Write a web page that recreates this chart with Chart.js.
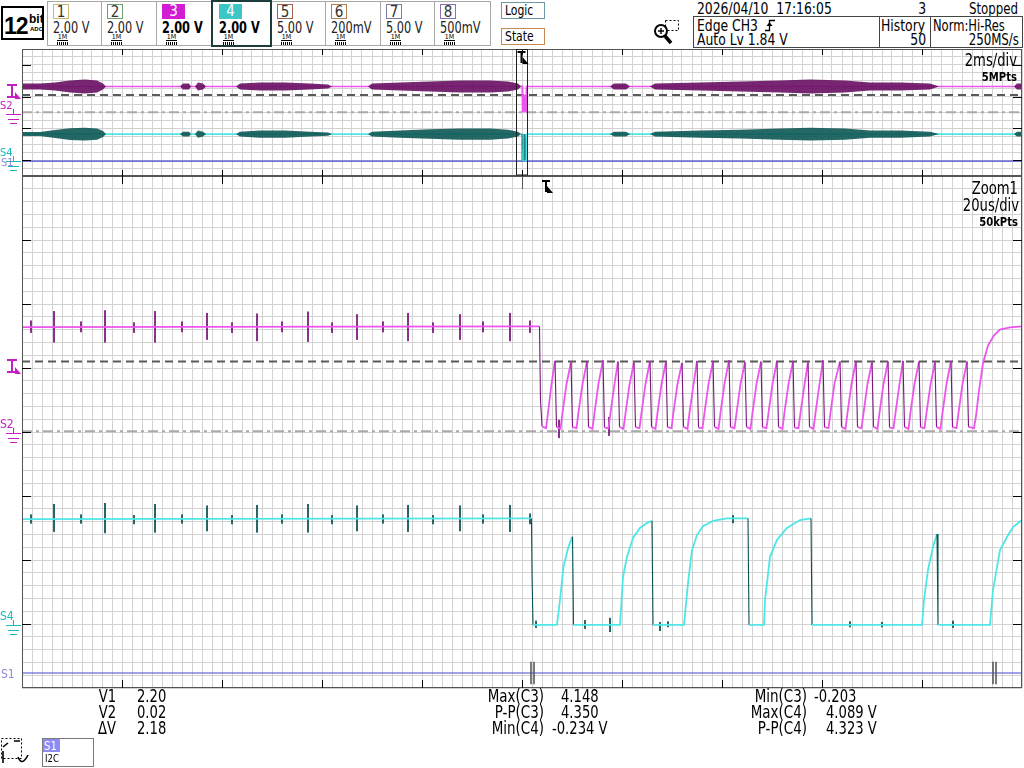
<!DOCTYPE html>
<html>
<head>
<meta charset="utf-8">
<title>Scope capture</title>
<script src="https://cdn.jsdelivr.net/npm/chart.js@4.4.1/dist/chart.umd.min.js"></script>
<style>
  html, body { margin: 0; padding: 0; background: #fff; }
  body {
    position: relative; width: 1024px; height: 768px; overflow: hidden; color: #000;
    font-family: "DejaVu Sans Condensed", "DejaVu Sans", sans-serif;
  }
  .abs { position: absolute; white-space: pre; line-height: 1; }
  .t { transform: scaleX(0.86); transform-origin: left top; }
  .r { text-align: right; transform-origin: right top; }
  canvas { position: absolute; left: 0; }
  #overview { top: 49px; }
  #zoom { top: 176px; }
  .chbox { position: absolute; top: 1px; height: 45px; border: 1px solid #a8a8a8; box-sizing: border-box; background: #fff; }
  .chbox.sel { top: 0; height: 47px; border: 2px solid #1e3c3c; z-index: 2; }
  .chnum { position: absolute; top: 2px; height: 15px; font-size: 15px; line-height: 15px; text-align: center; box-sizing: border-box; }
  .chv { position: absolute; top: 18px; font-size: 15px; line-height: 16px; white-space: pre; color: #222;
         transform: scaleX(0.84); transform-origin: left top; }
  .ohm { position: absolute; top: 32px; width: 11px; font-size: 7px; line-height: 6px; text-align: center;
         border-bottom: 1px solid #000; }
  .hatch { position: absolute; top: 40px; width: 11px; height: 3px;
           background: repeating-linear-gradient(90deg, #000 0 1px, #fff 1px 2px); }
  .big { font-size: 16px; }
  .meas { font-size: 17px; }
</style>
</head>
<body>

<div class="abs" style="left:1px;top:6px;width:39px;height:30px;border:2px solid #000;">
  <div class="abs" style="left:1px;top:5px;font:bold 23px 'Liberation Sans',Arial,sans-serif;letter-spacing:-1px;">12</div>
  <div class="abs" style="left:26px;top:4px;font:bold 12px 'Liberation Sans',Arial,sans-serif;">bit</div>
  <div class="abs" style="left:27px;top:18px;font:bold 6px 'Liberation Sans',Arial,sans-serif;">ADC</div>
</div>
<div id="channels"></div>

<div class="abs" style="left:501px;top:2px;width:42px;height:15px;border:1px solid #6f98a6;"></div>
<div class="abs t" style="left:505px;top:3px;font-size:14px;">Logic</div>
<div class="abs" style="left:501px;top:28px;width:42px;height:15px;border:1px solid #c48a52;"></div>
<div class="abs t" style="left:505px;top:29px;font-size:14px;">State</div>

<svg class="abs" style="left:652px;top:18px;" width="30" height="28">
  <rect x="13.5" y="2.5" width="13" height="10" fill="none" stroke="#000" stroke-dasharray="2,2"/>
  <circle cx="9" cy="13" r="6" fill="#fff" stroke="#000" stroke-width="2"/>
  <path d="M6 13 H12 M9 10 V16" stroke="#000" stroke-width="1.4"/>
  <path d="M13 18 L19 25" stroke="#000" stroke-width="3.5"/>
</svg>

<div class="abs big t" style="left:697px;top:1px;">2026/04/10  17:16:05</div>
<div class="abs big r" style="left:880px;top:1px;width:46px;transform:scaleX(.86);">3</div>
<div class="abs big r" style="left:900px;top:1px;width:118px;transform:scaleX(.82);">Stopped</div>
<div class="abs" style="left:693px;top:16px;width:328px;height:30px;border:1px solid #444;"></div>
<div class="abs" style="left:879px;top:16px;width:1px;height:31px;background:#444;"></div>
<div class="abs" style="left:930px;top:16px;width:1px;height:31px;background:#444;"></div>
<div class="abs big t" style="left:697px;top:18px;">Edge CH3</div>
<svg class="abs" style="left:765px;top:19px;" width="12" height="13">
  <path d="M0 11.5 H4.5 V1.5 H10" fill="none" stroke="#000" stroke-width="1.3"/>
  <path d="M1.5 7 L4.5 3 L7.5 7 Z" fill="#000"/>
</svg>
<div class="abs big t" style="left:697px;top:32px;">Auto Lv 1.84 V</div>
<div class="abs big t" style="left:881px;top:18px;">History</div>
<div class="abs big r" style="left:880px;top:32px;width:46px;transform:scaleX(.86);">50</div>
<div class="abs big t" style="left:933px;top:18px;transform:scaleX(.8);">Norm:Hi-Res</div>
<div class="abs big r" style="left:900px;top:32px;width:119px;transform:scaleX(.82);">250MS/s</div>

<canvas id="overview" width="1024" height="128"></canvas>
<canvas id="zoom" width="1024" height="513"></canvas>

<div class="abs r" style="left:900px;top:52px;width:117px;font-size:17px;transform:scaleX(.86);">2ms/div</div>
<div class="abs r" style="left:900px;top:70px;width:117px;font-size:13px;font-weight:bold;transform:scaleX(.86);">5MPts</div>
<div class="abs r" style="left:900px;top:180px;width:118px;font-size:17px;transform:scaleX(.86);">Zoom1</div>
<div class="abs r" style="left:900px;top:197px;width:119px;font-size:17px;transform:scaleX(.86);">20us/div</div>
<div class="abs r" style="left:900px;top:215px;width:118px;font-size:13px;font-weight:bold;transform:scaleX(.86);">50kPts</div>

<div class="abs meas r" style="left:60px;top:688px;width:56px;transform:scaleX(.86);">V1</div>
<div class="abs meas r" style="left:60px;top:704px;width:56px;transform:scaleX(.86);">V2</div>
<div class="abs meas r" style="left:60px;top:720px;width:56px;transform:scaleX(.86);">ΔV</div>
<div class="abs meas t" style="left:137px;top:688px;">2.20</div>
<div class="abs meas t" style="left:137px;top:704px;">0.02</div>
<div class="abs meas t" style="left:137px;top:720px;">2.18</div>

<div class="abs meas r" style="left:440px;top:688px;width:104px;transform:scaleX(.88);">Max(C3)</div>
<div class="abs meas r" style="left:440px;top:704px;width:104px;transform:scaleX(.88);">P-P(C3)</div>
<div class="abs meas r" style="left:440px;top:720px;width:104px;transform:scaleX(.88);">Min(C4)</div>
<div class="abs meas t" style="left:561px;top:688px;">4.148</div>
<div class="abs meas t" style="left:561px;top:704px;">4.350</div>
<div class="abs meas t" style="left:552px;top:720px;">-0.234 V</div>

<div class="abs meas r" style="left:700px;top:688px;width:107px;transform:scaleX(.88);">Min(C3)</div>
<div class="abs meas r" style="left:700px;top:704px;width:107px;transform:scaleX(.88);">Max(C4)</div>
<div class="abs meas r" style="left:700px;top:720px;width:107px;transform:scaleX(.88);">P-P(C4)</div>
<div class="abs meas t" style="left:814px;top:688px;">-0.203</div>
<div class="abs meas t" style="left:826px;top:704px;">4.089 V</div>
<div class="abs meas t" style="left:826px;top:720px;">4.323 V</div>

<svg class="abs" style="left:0;top:737px;" width="34" height="30">
  <rect x="1.5" y="1.5" width="20" height="20" fill="none" stroke="#000" stroke-dasharray="2,2"/>
  <path d="M14 4 H20 M3 10 L8 6 M3 26 V14 M18 20 Q22 30 28 18" fill="none" stroke="#000" stroke-width="1.6"/>
</svg>
<div class="abs" style="left:42px;top:738px;width:50px;height:27px;border:1px solid #7a7a7a;"></div>
<div class="abs" style="left:43px;top:739px;width:17px;height:13px;background:#8c8cf2;"></div>
<div class="abs t" style="left:44px;top:739px;font-size:13px;color:#fff;">S1</div>
<div class="abs t" style="left:45px;top:753px;font-size:11px;">I2C</div>

<script>
// header channel boxes
const chNames = ["1", "2", "3", "4", "5", "6", "7", "8"];
const chScales = ["2.00 V", "2.00 V", "2.00 V", "2.00 V", "5.00 V", "200mV", "5.00 V", "500mV"];
const chColors = ["#c6b97a", "#6e9e6e", "#d21ed2", "#3cc6c6", "#a4604e", "#b47e52", "#7c7ca4", "#8a72b8"];
const chFilled = [false, false, true, true, false, false, false, false];
const chLeft = [47, 101, 156, 211, 271, 325, 380, 434, 490];

// zoom window, 20 us/div, time in us, volts per channel
const c3T = [
  0, 103.5, 103.7, 104.0, 104.8, 105.2, 105.9,
  106.6, 106.9, 107.7, 108.1, 108.9,
  109.8, 110.1, 110.9, 111.3, 112.1,
  113.0, 113.3, 114.1, 114.5, 115.3,
  116.2, 116.5, 117.3, 117.7, 118.5,
  119.2, 119.5, 120.3, 120.7, 121.5,
  122.4, 122.7, 123.5, 123.9, 124.7,
  125.6, 125.9, 126.7, 127.1, 127.9,
  128.8, 129.1, 129.9, 130.3, 131.1,
  132.0, 132.3, 133.1, 133.5, 134.3,
  135.0, 135.3, 136.1, 136.5, 137.3,
  138.2, 138.5, 139.3, 139.7, 140.5,
  141.4, 141.7, 142.5, 142.9, 143.7,
  144.6, 144.9, 145.7, 146.1, 146.9,
  147.8, 148.1, 148.9, 149.3, 150.1,
  151.0, 151.3, 152.1, 152.5, 153.3,
  154.2, 154.5, 155.3, 155.7, 156.5,
  157.2, 157.5, 158.3, 158.7, 159.5,
  160.2, 160.5, 161.3, 161.7, 162.5,
  163.6, 163.9, 164.7, 165.1, 165.9,
  166.8, 167.1, 167.9, 168.3, 169.1,
  170.0, 170.3, 171.1, 171.5, 172.3,
  173.2, 173.5, 174.3, 174.7, 175.5,
  176.2, 176.5, 177.3, 177.7, 178.5,
  179.4, 179.7, 180.5, 180.9, 181.7,
  182.6, 182.9, 183.7, 184.1, 184.9,
  185.8, 186.1, 186.9, 187.3, 188.1,
  189.0, 189.3, 190.4, 190.8, 191.4, 192.2, 193.2, 194.4, 195.6, 197.6, 200,
];
const c3V = [
  3.28, 3.3, 1.0, 0.18, 0.12, 0.6, 1.5,
  2.22, 0.16, 0.1, 0.6, 1.5,
  2.18, 0.15, 0.12, 0.62, 1.5,
  2.2, 0.16, 0.1, 0.6, 1.52,
  2.24, 0.14, 0.12, 0.6, 1.5,
  2.2, 0.16, 0.1, 0.58, 1.48,
  2.18, 0.15, 0.12, 0.6, 1.5,
  2.22, 0.16, 0.1, 0.6, 1.5,
  2.2, 0.15, 0.12, 0.62, 1.5,
  2.16, 0.16, 0.1, 0.6, 1.48,
  2.22, 0.14, 0.12, 0.6, 1.5,
  2.2, 0.16, 0.1, 0.6, 1.52,
  2.24, 0.15, 0.12, 0.58, 1.5,
  2.18, 0.16, 0.1, 0.6, 1.5,
  2.2, 0.15, 0.12, 0.6, 1.5,
  2.22, 0.16, 0.1, 0.62, 1.5,
  2.2, 0.14, 0.12, 0.6, 1.48,
  2.18, 0.16, 0.1, 0.6, 1.5,
  2.24, 0.15, 0.12, 0.6, 1.52,
  2.2, 0.16, 0.1, 0.6, 1.5,
  2.22, 0.15, 0.12, 0.58, 1.5,
  2.18, 0.16, 0.1, 0.6, 1.5,
  2.2, 0.14, 0.12, 0.6, 1.5,
  2.22, 0.16, 0.1, 0.62, 1.5,
  2.2, 0.15, 0.12, 0.6, 1.48,
  2.18, 0.16, 0.1, 0.6, 1.5,
  2.22, 0.15, 0.12, 0.6, 1.5,
  2.2, 0.16, 0.12, 0.5, 1.3, 2.15, 2.7, 3.02, 3.2, 3.27, 3.3,
];
const c4T = [
  0, 101.9, 102.0, 102.2,
  107.0, 107.6, 108.3, 109.3, 110.1, 110.3,
  119.6, 120.2, 121.0, 122.2, 123.6, 125.0, 126.0, 126.2,
  132.4, 133.2, 134.0, 135.0, 136.2, 138.2, 141.0, 145.2, 145.4,
  148.4, 148.6, 149.0, 149.6, 151.0, 153.0, 155.6, 157.8, 158.0,
  180.0, 180.4, 181.2, 182.2, 183.0, 183.2,
  193.6, 194.2, 195.0, 195.6, 197.0, 198.2, 200,
];
const c4V = [
  3.28, 3.3, 1.6, -0.03,
  -0.03, 0.75, 1.79, 2.42, 2.73, -0.03,
  -0.03, 1.47, 2.1, 2.69, 3.0, 3.16, 3.22, -0.03,
  -0.03, 1.28, 2.31, 2.78, 3.06, 3.22, 3.3, 3.3, -0.03,
  -0.03, 0.75, 1.28, 2.1, 2.63, 3.0, 3.25, 3.3, -0.03,
  -0.03, 0.75, 1.69, 2.41, 2.81, -0.03,
  -0.03, 1.06, 1.78, 2.31, 2.72, 3.03, 3.25,
];

// glitches riding on the traces: time, top and bottom of each spike
const c3SpikeT = [1.8, 6.4, 11.8, 16.6, 22.4, 26.6, 32.0, 37.0, 42.0, 47.0, 52.0, 57.2, 62.0, 67.0, 72.2, 77.2, 82.2, 87.6, 92.2, 97.6, 101.6, 107.4, 117.4];
const c3SpikeHi = [3.48, 3.78, 3.45, 3.8, 3.42, 3.78, 3.45, 3.72, 3.42, 3.7, 3.45, 3.76, 3.42, 3.68, 3.45, 3.72, 3.42, 3.68, 3.45, 3.72, 3.48, 0.38, 0.47];
const c3SpikeLo = [3.1, 2.8, 3.12, 2.8, 3.1, 2.8, 3.12, 2.88, 3.1, 2.84, 3.12, 2.82, 3.1, 2.88, 3.12, 2.84, 3.1, 2.88, 3.12, 2.84, 3.1, -0.19, -0.12];
const c4SpikeT = [1.8, 6.4, 11.8, 16.6, 22.4, 26.6, 32.0, 37.0, 42.0, 47.0, 52.0, 57.2, 62.0, 67.0, 72.2, 77.2, 82.2, 87.6, 92.2, 97.6, 101.6, 102.8, 112.6, 117.6, 127.6, 129.2, 142.2, 165.6, 172.0, 186.2];
const c4SpikeHi = [3.42, 3.75, 3.42, 3.78, 3.4, 3.75, 3.42, 3.7, 3.4, 3.72, 3.42, 3.75, 3.4, 3.7, 3.42, 3.72, 3.4, 3.7, 3.42, 3.72, 3.45, 0.1, 0.12, 0.19, 0.06, 0.08, 3.4, 0.08, 0.06, 0.1];
const c4SpikeLo = [3.14, 2.88, 3.14, 2.84, 3.12, 2.86, 3.14, 2.9, 3.12, 2.86, 3.14, 2.86, 3.12, 2.9, 3.14, 2.88, 3.12, 2.9, 3.14, 2.88, 3.12, -0.12, -0.15, -0.25, -0.22, -0.1, 3.15, -0.1, -0.1, -0.12];

const cursorV1 = 2.20;
const cursorV2 = 0.02;
const triggerLevel = 1.84;
const s1LevelDiv = 0.234;
const s1MarkT = [101.8, 102.4, 194.2, 194.8];
const s1MarkDiv = [0.06, 0.41];

// overview, 2 ms/div, time in ms; burst envelopes as half height in volts
const ovZoomStart = 9.9;
const ovZoomEnd = 10.1;
const ovHigh3 = 3.28;
const ovHigh4 = 3.28;
const ovS1Div = 0.94;
const ovBandMs = [0, 0.36, 0.66, 0.96, 1.26, 1.5, 1.62, 1.68, 3.16, 3.22, 3.34, 3.38, 3.46, 3.52, 3.62, 3.68,
  4.28, 4.36, 4.76, 5.26, 5.76, 6.12, 6.2, 6.92, 7.0, 7.56, 8.16, 8.76, 9.36, 9.72, 9.92, 9.98,
  11.76, 11.84, 12.08, 12.16, 12.56, 12.66, 13.56, 14.36, 15.16, 15.76, 16.46, 16.96, 17.56, 18.16, 18.34,
  19.84, 19.9, 20.0];
const ovBand3 = [0.38, 0.38, 0.5, 0.75, 0.88, 0.75, 0.38, 0, 0, 0.38, 0.38, 0, 0, 0.5, 0.38, 0,
  0, 0.38, 0.5, 0.5, 0.38, 0.25, 0, 0, 0.38, 0.5, 0.63, 0.75, 0.75, 0.63, 0.38, 0,
  0, 0.38, 0.38, 0, 0, 0.38, 0.5, 0.63, 0.75, 0.88, 0.75, 0.5, 0.5, 0.38, 0,
  0, 0.38, 0.38];
const ovBand4 = [0.25, 0.25, 0.5, 0.75, 0.8, 0.7, 0.38, 0, 0, 0.3, 0.3, 0, 0, 0.45, 0.3, 0,
  0, 0.3, 0.45, 0.45, 0.3, 0.2, 0, 0, 0.3, 0.45, 0.6, 0.7, 0.7, 0.55, 0.3, 0,
  0, 0.3, 0.3, 0, 0, 0.3, 0.45, 0.55, 0.7, 0.8, 0.7, 0.45, 0.45, 0.3, 0,
  0, 0.3, 0.3];

const C3 = "#ee55ee";
const C3_DARK = "#7a147a";
const C4 = "#4ee6e6";
const C4_DARK = "#0a5252";
const S1_COLOR = "#4646d2";
const GRID = "#d2d2d2";
const FRAME = "#555555";
const FONT = '"DejaVu Sans Condensed", "DejaVu Sans", sans-serif';

function buildChannelBoxes() {
  const holder = document.getElementById("channels");
  chNames.forEach((name, i) => {
    const box = document.createElement("div");
    box.className = name === "4" ? "chbox sel" : "chbox";
    box.style.left = `${chLeft[i]}px`;
    box.style.width = `${chLeft[i + 1] - chLeft[i] + 1}px`;
    const inset = name === "4" ? 6 : 5;

    const num = document.createElement("div");
    num.className = "chnum";
    num.textContent = name;
    num.style.left = `${inset}px`;
    num.style.width = chFilled[i] ? "23px" : "16px";
    if (chFilled[i]) {
      num.style.background = chColors[i];
      num.style.color = "#fff";
    } else {
      num.style.border = `1px solid ${chColors[i]}`;
      num.style.color = "#333";
    }

    const volts = document.createElement("div");
    volts.className = "chv";
    volts.textContent = chScales[i];
    volts.style.left = `${inset}px`;
    if (chFilled[i]) {
      volts.style.fontWeight = "bold";
      volts.style.color = "#000";
    }

    const ohm = document.createElement("div");
    ohm.className = "ohm";
    ohm.textContent = "1M";
    ohm.style.left = `${inset + 4}px`;
    const hatch = document.createElement("div");
    hatch.className = "hatch";
    hatch.style.left = `${inset + 4}px`;

    box.append(num, volts, ohm, hatch);
    holder.appendChild(box);
  });
}

function xy(ts, vs) {
  return ts.map((t, i) => ({ x: t, y: vs[i] }));
}

function spikeSegments(ts, his, los) {
  const pts = [];
  ts.forEach((t, i) => {
    pts.push({ x: t, y: his[i] }, { x: t, y: los[i] }, { x: t, y: null });
  });
  return pts;
}

function overviewTrace(ts, vs, level) {
  const pts = [{ x: 0, y: level }, { x: ovZoomStart, y: level }];
  ts.forEach((t, i) => pts.push({ x: ovZoomStart + t / 1000, y: vs[i] }));
  pts.push({ x: ovZoomEnd, y: level }, { x: 20, y: level });
  return pts;
}

function envelope(level, halves, sign) {
  return ovBandMs.map((t, i) => ({ x: t, y: level + sign * halves[i] }));
}

// falling edges show up dark and thin on the scope
function isFall(ctx) {
  const drop = ctx.p0.parsed.y - ctx.p1.parsed.y;
  const dx = ctx.p1.parsed.x - ctx.p0.parsed.x;
  return drop > 0.8 && dx < 0.5;
}

function edgeColors(light, dark) {
  return {
    borderColor: (ctx) => (isFall(ctx) ? dark : light),
    borderWidth: (ctx) => (isFall(ctx) ? 1.1 : undefined),
  };
}

function line(data, axis, color, width, extra = {}) {
  return Object.assign({
    data, yAxisID: axis, borderColor: color, borderWidth: width,
    pointRadius: 0, fill: false, spanGaps: false, tension: 0,
  }, extra);
}

function gridScale(min, max, step) {
  return {
    type: "linear", min, max,
    ticks: { display: false, stepSize: step, maxTicksLimit: 1000 },
    grid: { color: GRID, lineWidth: 1, drawTicks: false },
    border: { display: false },
    afterFit: (s) => { s.width = s.isHorizontal() ? s.width : 0; s.height = s.isHorizontal() ? 0 : s.height; },
  };
}

function drawGround(ctx, y, color) {
  ctx.strokeStyle = color;
  ctx.lineWidth = 1;
  ctx.beginPath();
  ctx.moveTo(13.5, y - 4); ctx.lineTo(13.5, y + 1);
  ctx.moveTo(6, y + 1.5); ctx.lineTo(21, y + 1.5);
  ctx.moveTo(8, y + 6.5); ctx.lineTo(19, y + 6.5);
  ctx.moveTo(10, y + 10.5); ctx.lineTo(17, y + 10.5);
  ctx.stroke();
}

function drawLevelMarker(ctx, y, color) {
  ctx.fillStyle = color;
  ctx.fillRect(7, y - 14, 10, 2);
  ctx.fillRect(11, y - 14, 2, 14);
  ctx.fillRect(7, y - 2, 8, 2);
  ctx.beginPath();
  ctx.moveTo(15, y - 6); ctx.lineTo(21, y + 1); ctx.lineTo(15, y + 1);
  ctx.closePath();
  ctx.fill();
}

function drawTrigT(ctx, x, y) {
  ctx.fillStyle = "#000";
  ctx.fillRect(x, y, 8, 2);
  ctx.fillRect(x + 3, y, 2, 12);
  ctx.beginPath();
  ctx.moveTo(x + 5, y + 6); ctx.lineTo(x + 11, y + 13); ctx.lineTo(x + 5, y + 13);
  ctx.closePath();
  ctx.fill();
}

function drawFrame(chart, xMajor, yMajor, tickLen) {
  const { ctx, chartArea: a, scales } = chart;
  ctx.strokeStyle = FRAME;
  ctx.lineWidth = 1;
  ctx.strokeRect(a.left + 0.5, a.top + 0.5, a.right - a.left - 1, a.bottom - a.top - 1);
  ctx.strokeStyle = "#000";
  ctx.beginPath();
  xMajor.forEach((t) => {
    const x = Math.round(scales.x.getPixelForValue(t)) + 0.5;
    ctx.moveTo(x, a.top); ctx.lineTo(x, a.top + tickLen);
    ctx.moveTo(x, a.bottom - tickLen); ctx.lineTo(x, a.bottom);
  });
  yMajor.forEach((d) => {
    const y = Math.round(scales.y.getPixelForValue(d)) + 0.5;
    ctx.moveTo(a.left, y); ctx.lineTo(a.left + 9, y);
    ctx.moveTo(a.right - 9, y); ctx.lineTo(a.right, y);
  });
  ctx.stroke();
}

function drawSideMarkers(chart, s1Div, fontPx) {
  const { ctx, scales } = chart;
  const g3 = Math.round(scales.y3.getPixelForValue(0));
  const g4 = Math.round(scales.y4.getPixelForValue(0));
  const s1 = Math.round(scales.y.getPixelForValue(s1Div));
  ctx.font = `${fontPx}px ${FONT}`;
  ctx.textAlign = "left";
  ctx.textBaseline = "alphabetic";
  drawLevelMarker(ctx, Math.round(scales.y3.getPixelForValue(triggerLevel)), "#c41ec4");
  ctx.fillStyle = "#c41ec4";
  ctx.fillText("S2", 0, g3 - 4);
  drawGround(ctx, g3, "#c41ec4");
  ctx.fillStyle = "#1ab8b8";
  ctx.fillText("S4", 0, g4 - 4);
  drawGround(ctx, g4, "#1ab8b8");
  ctx.fillStyle = "#8a8ad8";
  ctx.fillText("S1", 1, s1 + 5);
}

const majorZoomT = [20, 40, 60, 80, 100, 120, 140, 160, 180];
const majorOvMs = [2, 4, 6, 8, 10, 12, 14, 16, 18];

const zoomFrame = {
  id: "zoomFrame",
  afterDraw(chart) {
    const { ctx, chartArea: a, scales } = chart;
    ctx.save();
    drawFrame(chart, majorZoomT, [1, 2, 3, 4, 5, 6, 7], 8);
    drawSideMarkers(chart, s1LevelDiv, 12);
    const xTrig = Math.round(scales.x.getPixelForValue(100)) + 0.5;
    ctx.strokeStyle = "#555";
    ctx.beginPath();
    ctx.moveTo(xTrig, a.top); ctx.lineTo(xTrig, a.top + 13);
    ctx.stroke();
    drawTrigT(ctx, Math.round(scales.x.getPixelForValue(104)), a.top + 4);
    ctx.restore();
  },
};

const overviewFrame = {
  id: "overviewFrame",
  afterDraw(chart) {
    const { ctx, chartArea: a, scales } = chart;
    ctx.save();
    drawFrame(chart, majorOvMs, [1, 3, 5, 7], 6);
    drawSideMarkers(chart, ovS1Div, 11);
    const x0 = Math.round(scales.x.getPixelForValue(ovZoomStart)) - 0.5;
    const x1 = Math.round(scales.x.getPixelForValue(ovZoomEnd)) + 0.5;
    ctx.strokeStyle = "#222";
    ctx.lineWidth = 1;
    ctx.strokeRect(x0, a.top + 0.5, x1 - x0, a.bottom - a.top - 1.5);
    drawTrigT(ctx, x0 + 1, a.top + 2);
    ctx.restore();
  },
};

const baseOptions = {
  responsive: false,
  animation: false,
  devicePixelRatio: 1,
  events: [],
  plugins: { legend: { display: false }, tooltip: { enabled: false } },
};

function drawZoom() {
  new Chart(document.getElementById("zoom"), {
    type: "line",
    data: {
      datasets: [
        line(xy(c3T, c3V), "y3", C3, 1.8, { segment: edgeColors(C3, C3_DARK) }),
        line(xy(c4T, c4V), "y4", C4, 1.8, { segment: edgeColors(C4, C4_DARK) }),
        line(spikeSegments(c3SpikeT, c3SpikeHi, c3SpikeLo), "y3", C3_DARK, 1),
        line(spikeSegments(c4SpikeT, c4SpikeHi, c4SpikeLo), "y4", C4_DARK, 1),
        line(spikeSegments(s1MarkT, s1MarkT.map(() => s1MarkDiv[1]), s1MarkT.map(() => s1MarkDiv[0])), "y", "#5a5a5a", 1.6),
        line([{ x: 0, y: s1LevelDiv }, { x: 200, y: s1LevelDiv }], "y", S1_COLOR, 1.2),
        line([{ x: 0, y: cursorV1 }, { x: 200, y: cursorV1 }], "y3", "#5a5a5a", 2, { borderDash: [8, 5] }),
        line([{ x: 0, y: cursorV2 }, { x: 200, y: cursorV2 }], "y3", "#aaaaaa", 2, { borderDash: [10, 4, 3, 4] }),
      ],
    },
    options: Object.assign({}, baseOptions, {
      layout: { padding: { left: 22, right: 2, top: 0, bottom: 1 } },
      scales: {
        x: gridScale(0, 200, 2),
        y: gridScale(0, 8, 0.2),
        y3: { display: false, min: -8, max: 8 },
        y4: { display: false, min: -2, max: 14 },
      },
    }),
    plugins: [zoomFrame],
  });
}

function drawOverview() {
  new Chart(document.getElementById("overview"), {
    type: "line",
    data: {
      datasets: [
        line(envelope(ovHigh3, ovBand3, 1), "y3", "rgba(0,0,0,0)", 0),
        line(envelope(ovHigh3, ovBand3, -1), "y3", "rgba(0,0,0,0)", 0, { fill: "-1", backgroundColor: "rgba(104,16,98,0.9)" }),
        line(overviewTrace(c3T, c3V, ovHigh3), "y3", C3, 1.6),
        line(envelope(ovHigh4, ovBand4, 1), "y4", "rgba(0,0,0,0)", 0),
        line(envelope(ovHigh4, ovBand4, -1), "y4", "rgba(0,0,0,0)", 0, { fill: "-1", backgroundColor: "rgba(14,88,84,0.9)" }),
        line(overviewTrace(c4T, c4V, ovHigh4), "y4", C4, 1.6, { segment: edgeColors(C4, C4_DARK) }),
        line([{ x: 0, y: ovS1Div }, { x: 20, y: ovS1Div }], "y", S1_COLOR, 1.2),
        line([{ x: 0, y: cursorV1 }, { x: 20, y: cursorV1 }], "y3", "#5a5a5a", 2, { borderDash: [8, 5] }),
        line([{ x: 0, y: cursorV2 }, { x: 20, y: cursorV2 }], "y3", "#aaaaaa", 2, { borderDash: [10, 4, 3, 4] }),
      ],
    },
    options: Object.assign({}, baseOptions, {
      layout: { padding: { left: 22, right: 2, top: 0, bottom: 1 } },
      scales: {
        x: gridScale(0, 20, 0.2),
        y: gridScale(0, 8, 0.5),
        y3: { display: false, min: -8, max: 8 },
        y4: { display: false, min: -2, max: 14 },
      },
    }),
    plugins: [overviewFrame],
  });
}

buildChannelBoxes();
drawOverview();
drawZoom();
</script>
</body>
</html>
